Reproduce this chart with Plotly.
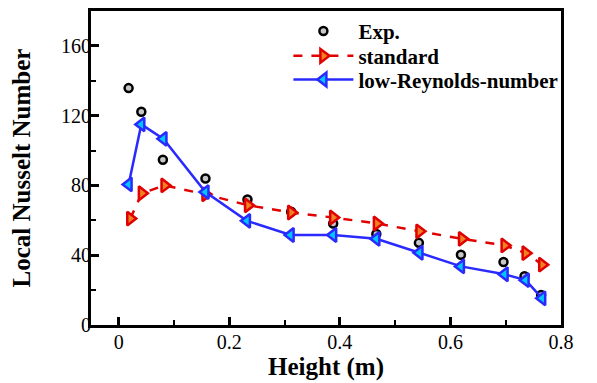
import plotly.graph_objects as go

height_exp = [0.018, 0.041, 0.080, 0.157, 0.233, 0.312, 0.388, 0.466, 0.543, 0.619, 0.696, 0.734, 0.764]
nu_exp = [135.8, 122.2, 94.7, 84.0, 72.0, 64.9, 58.2, 52.2, 47.1, 40.3, 36.1, 28.0, 17.2]

height_std = [0.021, 0.042, 0.083, 0.157, 0.234, 0.312, 0.388, 0.467, 0.544, 0.621, 0.698, 0.736, 0.766]
nu_std = [61.0, 75.5, 80.0, 74.9, 68.6, 64.5, 61.6, 58.2, 53.7, 49.4, 45.6, 41.2, 34.6]

height_low = [0.018, 0.041, 0.081, 0.157, 0.232, 0.311, 0.388, 0.466, 0.544, 0.619, 0.698, 0.736, 0.766]
nu_low = [80.6, 115.0, 106.7, 76.2, 59.7, 51.6, 51.6, 49.4, 41.4, 33.6, 29.1, 25.7, 15.3]

x_ticks = [0, 0.2, 0.4, 0.6, 0.8]
y_ticks = [0, 40, 80, 120, 160]

serif = "Liberation Serif, Times New Roman, Times, serif"

fig = go.Figure()
fig.add_trace(go.Scatter(
    x=height_exp, y=nu_exp, mode="markers", name="Exp.", legend="legend",
    marker=dict(symbol="circle", size=8, color="#c8c8c8",
                line=dict(color="black", width=2.5)),
))
fig.add_trace(go.Scatter(
    x=height_std, y=nu_std, mode="lines+markers", name="standard", legend="legend2",
    line=dict(color="#e00000", width=2.5, dash="dash"),
    marker=dict(symbol="triangle-right", size=12, color="#f08020",
                line=dict(color="#e00000", width=2.5)),
))
fig.add_trace(go.Scatter(
    x=height_low, y=nu_low, mode="lines+markers", name="low-Reynolds-number", legend="legend3",
    line=dict(color="#2a2aff", width=2.5),
    marker=dict(symbol="triangle-left", size=12, color="#00c8ff",
                line=dict(color="#2a2aff", width=2.5)),
))

legend_style = dict(
    x=0.42, xanchor="left", yanchor="middle",
    bgcolor="rgba(0,0,0,0)", borderwidth=0,
    font=dict(family=serif, size=21, color="black", weight="bold"),
    itemwidth=60,
)

fig.update_layout(
    width=589, height=375,
    margin=dict(l=83, r=36, t=0, b=58),
    paper_bgcolor="white", plot_bgcolor="white",
    font=dict(family=serif, size=20, color="black"),
    showlegend=True,
    legend=dict(y=0.935, **legend_style),
    legend2=dict(y=0.856, **legend_style),
    legend3=dict(y=0.781, **legend_style),
)
fig.update_xaxes(
    range=[-0.05, 0.8], tickvals=x_ticks, ticktext=["0", "0.2", "0.4", "0.6", "0.8"],
    showgrid=False, zeroline=False,
    showline=True, linewidth=3, linecolor="black", mirror=True,
    ticks="inside", ticklen=8, tickwidth=2.5, tickcolor="black",
    minor=dict(ticks="inside", ticklen=5, tickwidth=1.5, dtick=0.1, tick0=0, tickcolor="black", showgrid=False),
    tickfont=dict(family=serif, size=20, color="black"), ticklabelstandoff=-3,
    title=dict(text="Height (m)", font=dict(family=serif, size=25, color="black", weight="bold"), standoff=2),
)
fig.update_yaxes(
    range=[0, 180], tickvals=y_ticks,
    showgrid=False, zeroline=False,
    showline=True, linewidth=3, linecolor="black", mirror=True,
    ticks="inside", ticklen=8, tickwidth=2.5, tickcolor="black",
    minor=dict(ticks="inside", ticklen=5, tickwidth=1.5, dtick=20, tick0=0, tickcolor="black", showgrid=False),
    tickfont=dict(family=serif, size=20, color="black"), ticklabelstandoff=-7,
    title=dict(text="Local Nusselt Number", font=dict(family=serif, size=25, color="black", weight="bold"), standoff=28),
)

fig.write_html("out.html")
